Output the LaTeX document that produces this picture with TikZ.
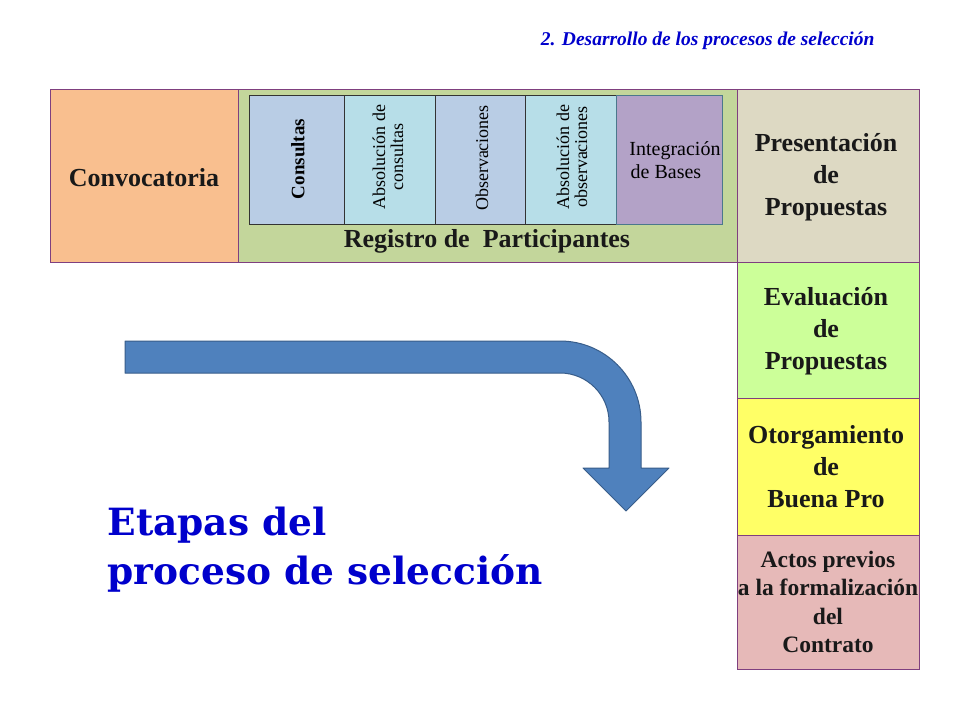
\documentclass[tikz,border=0pt]{standalone}
\usepackage{fontspec}
\setmainfont{Liberation Serif}
\newfontfamily\heavy{DejaVu Serif}[BoldFont={DejaVu Serif Bold}]
\definecolor{bord}{HTML}{7F3F7F}
\definecolor{arrowc}{HTML}{4F81BD}
\definecolor{arrowd}{HTML}{385D8A}
\tikzset{x=1pt,y=-1pt,
 box/.style={draw=bord,line width=0.6pt},
 inbox/.style={draw=black!80,line width=0.6pt},
 lab/.style={font=\bfseries\fontsize{26}{32}\selectfont,align=center,text=black!90},
 rot/.style={rotate=90,font=\fontsize{18}{18}\selectfont,align=center}}
\begin{document}
\begin{tikzpicture}
\useasboundingbox (0,0) rectangle (960,720);
\fill[white] (0,0) rectangle (960,720);
\node[anchor=base east,font=\bfseries\itshape\fontsize{19.5}{22}\selectfont,text={rgb,255:red,0;green,0;blue,204}] (title) at (878,45) {2. Desarrollo de los procesos de selección};
% boxes
\filldraw[box,fill={rgb,255:red,249;green,191;blue,143}] (50,89) rectangle (238,262);
\filldraw[box,fill={rgb,255:red,195;green,214;blue,155}] (238,89) rectangle (737,262);
\filldraw[box,fill={rgb,255:red,221;green,217;blue,195}] (737,89) rectangle (919,262);
\filldraw[box,fill={rgb,255:red,204;green,255;blue,153}] (737,262) rectangle (919,398);
\filldraw[box,fill={rgb,255:red,255;green,255;blue,102}] (737,398) rectangle (919,535);
\filldraw[box,fill={rgb,255:red,230;green,185;blue,184}] (737,535) rectangle (919,669);
\filldraw[inbox,fill={rgb,255:red,185;green,205;blue,229}] (249,95) rectangle (344,224);
\filldraw[inbox,fill={rgb,255:red,183;green,222;blue,232}] (344,95) rectangle (435,224);
\filldraw[inbox,fill={rgb,255:red,185;green,205;blue,229}] (435,95) rectangle (525,224);
\filldraw[inbox,fill={rgb,255:red,183;green,222;blue,232}] (525,95) rectangle (616,224);
\filldraw[draw={rgb,255:red,75;green,120;blue,140},line width=0.6pt,fill={rgb,255:red,179;green,162;blue,199}] (616,95) rectangle (722,224);
% labels
\node[lab] (conv) at (144,178) {Convocatoria};
\node[lab] (reg) at (487,241) {Registro de\ \ Participantes};
\node[lab] (pres) at (826,177) {Presentación\\de\\Propuestas};
\node[lab] (eval) at (826,331) {Evaluación\\de\\Propuestas};
\node[lab] (otor) at (826,467) {Otorgamiento\\de\\Buena Pro};
\node[lab,font=\bfseries\fontsize{23.5}{28.5}\selectfont] (actos) at (828,602) {Actos previos\\a la formalización\\del\\Contrato};
\node[rot,font=\bfseries\fontsize{19}{19}\selectfont] (c1) at (298,159) {Consultas};
\node[rot] (c2) at (388,157) {Absolución de\\consultas};
\node[rot] (c3) at (482,158) {Observaciones};
\node[rot] (c4) at (572,157) {Absolución de\\observaciones};
\node[font=\fontsize{20}{23}\selectfont,align=center] (c5) at (670,160) {\hspace*{10pt}Integración\\de Bases\hspace*{8pt}};
% arrow
\filldraw[fill=arrowc,draw=arrowd,line width=1pt,line join=round]
 (125,341) -- (560,341) arc[start angle=-90,end angle=0,radius=81] -- (641,468) -- (669,468) -- (626,511) -- (583,468) -- (609,468)
 -- (609,422) arc[start angle=0,end angle=-90,radius=49] -- (125,373) -- cycle;
\node[anchor=base west,font=\heavy\bfseries\fontsize{37.5}{40}\selectfont,text={rgb,255:red,0;green,0;blue,204},align=left] (et) at (104,535) {Etapas del};
\node[anchor=base west,font=\heavy\bfseries\fontsize{37.5}{40}\selectfont,text={rgb,255:red,0;green,0;blue,204},align=left] (ps) at (104,584) {proceso de selección};
\end{tikzpicture}
\end{document}
